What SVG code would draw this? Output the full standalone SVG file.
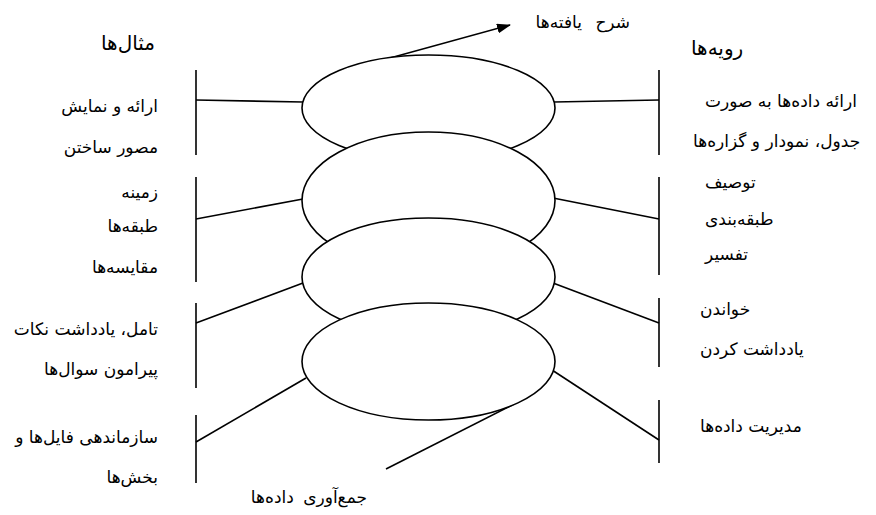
<svg xmlns="http://www.w3.org/2000/svg" width="876" height="515" viewBox="0 0 876 515">
<style>
  .ln{stroke:#000;stroke-width:1.6;fill:none}
  .el{stroke:#000;stroke-width:1.6;fill:#fff}
  .t{font-family:"DejaVu Sans",sans-serif;font-size:17px;fill:#000}
  .h{font-family:"DejaVu Sans",sans-serif;font-size:20px;fill:#000}
</style>
<defs>
  <marker id="arr" viewBox="0 0 14 10" refX="13" refY="5" markerWidth="14" markerHeight="10" markerUnits="userSpaceOnUse" orient="auto">
    <path d="M0,0 L14,5 L0,10 Z" fill="#000"/>
  </marker>
</defs>
<rect width="876" height="515" fill="#fff"/>

<g id="connectors">
  <line class="ln" x1="196" y1="100" x2="303" y2="102"/>
  <line class="ln" x1="196" y1="219" x2="303" y2="199"/>
  <line class="ln" x1="196" y1="323" x2="303" y2="283"/>
  <line class="ln" x1="196" y1="442" x2="306" y2="378"/>
  <line class="ln" x1="554" y1="102" x2="659" y2="100"/>
  <line class="ln" x1="553" y1="198" x2="659" y2="219"/>
  <line class="ln" x1="553" y1="283" x2="659" y2="323"/>
  <line class="ln" x1="552" y1="370" x2="659" y2="440"/>
  <line class="ln" x1="390" y1="58" x2="510" y2="25" marker-end="url(#arr)"/>
  <line class="ln" x1="386" y1="469" x2="514" y2="404"/>
</g>

<g id="stage-1"><ellipse class="el" cx="428.5" cy="108" rx="126.5" ry="53"/></g>
<g id="stage-2"><ellipse class="el" cx="428.5" cy="200.5" rx="126.5" ry="68.5"/></g>
<g id="stage-3"><ellipse class="el" cx="428.5" cy="277" rx="126.5" ry="59"/></g>
<g id="stage-4"><ellipse class="el" cx="428.5" cy="361.5" rx="126.5" ry="58.5"/></g>

<g id="title-findings"><text class="t" x="630" y="28" text-anchor="end" word-spacing="8">شرح یافته‌ها</text></g>
<g id="title-collection"><text class="t" x="367" y="503" text-anchor="end" word-spacing="4">جمع‌آوری داده‌ها</text></g>

<g id="examples">
  <text class="h" x="155" y="50" text-anchor="end">مثال‌ها</text>
  <g id="ex-1">
    <line class="ln" x1="196" y1="70" x2="196" y2="155"/>
    <text class="t" x="158" y="112" text-anchor="end">ارائه و نمایش</text>
    <text class="t" x="158" y="153" text-anchor="end">مصور ساختن</text>
  </g>
  <g id="ex-2">
    <line class="ln" x1="196" y1="177" x2="196" y2="282"/>
    <text class="t" x="158" y="198" text-anchor="end">زمینه</text>
    <text class="t" x="158" y="232" text-anchor="end">طبقه‌ها</text>
    <text class="t" x="158" y="273" text-anchor="end">مقایسه‌ها</text>
  </g>
  <g id="ex-3">
    <line class="ln" x1="196" y1="303" x2="196" y2="388"/>
    <text class="t" x="158" y="335" text-anchor="end">تامل، یادداشت نکات</text>
    <text class="t" x="158" y="375" text-anchor="end">پیرامون سوال‌ها</text>
  </g>
  <g id="ex-4">
    <line class="ln" x1="196" y1="415" x2="196" y2="483"/>
    <text class="t" x="158" y="443" text-anchor="end">سازماندهی فایل‌ها و</text>
    <text class="t" x="158" y="483" text-anchor="end">بخش‌ها</text>
  </g>
</g>

<g id="procedures">
  <text class="h" x="691" y="55">رویه‌ها</text>
  <g id="pr-1">
    <line class="ln" x1="659" y1="70" x2="659" y2="155"/>
    <text class="t" x="705" y="107">ارائه داده‌ها به صورت</text>
    <text class="t" x="693" y="147">جدول، نمودار و گزاره‌ها</text>
  </g>
  <g id="pr-2">
    <line class="ln" x1="659" y1="177" x2="659" y2="275"/>
    <text class="t" x="705" y="188">توصیف</text>
    <text class="t" x="705" y="225">طبقه‌بندی</text>
    <text class="t" x="705" y="260">تفسیر</text>
  </g>
  <g id="pr-3">
    <line class="ln" x1="659" y1="298" x2="659" y2="367"/>
    <text class="t" x="700" y="315">خواندن</text>
    <text class="t" x="700" y="355">یادداشت کردن</text>
  </g>
  <g id="pr-4">
    <line class="ln" x1="659" y1="400" x2="659" y2="463"/>
    <text class="t" x="700" y="432">مدیریت داده‌ها</text>
  </g>
</g>
</svg>
